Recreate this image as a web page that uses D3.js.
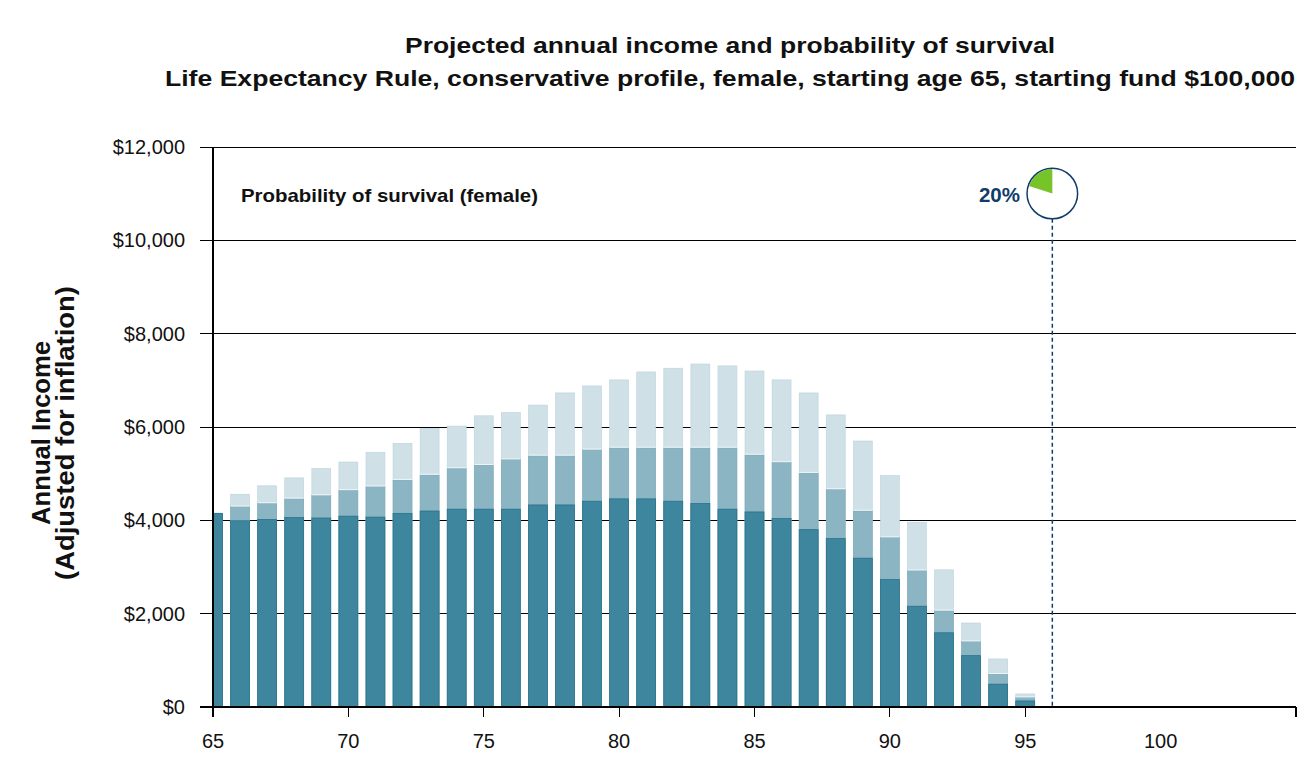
<!DOCTYPE html>
<html>
<head>
<meta charset="utf-8">
<script src="https://cdn.jsdelivr.net/npm/d3@7"></script>
<style>
  html, body { margin: 0; padding: 0; background: #fff; }
  svg { display: block; font-family: "Liberation Sans", Arial, Helvetica, sans-serif; }
</style>
</head>
<body>
<svg id="chart" width="1312" height="765"></svg>
<script>
// ---- Data ----
const ages = [65,66,67,68,69,70,71,72,73,74,75,76,77,78,79,80,81,82,83,84,85,86,87,88,89,90,91,92,93,94,95];
const incomeLow  = [4150,3990,4020,4060,4050,4090,4070,4150,4200,4240,4240,4240,4330,4330,4410,4460,4460,4410,4360,4240,4180,4040,3800,3610,3190,2730,2160,1590,1100,490,130];
const incomeMid  = [4150,4290,4360,4460,4530,4640,4720,4860,4970,5110,5180,5300,5380,5380,5510,5550,5550,5550,5550,5550,5400,5240,5010,4660,4200,3630,2920,2060,1400,700,200];
const incomeHigh = [4150,4560,4740,4910,5110,5250,5460,5650,5970,6020,6240,6310,6470,6730,6880,7010,7180,7260,7350,7310,7200,7010,6730,6260,5700,4960,3960,2940,1800,1030,280];
const yTicks = [0,2000,4000,6000,8000,10000,12000];
const xTickLabels = [65,70,75,80,85,90,95,100];
const xTickMarks = [65,70,75,80,85,90,95,105];
const survivalAge = 96;
const survivalProb = 0.20;
const titleLines = ["Projected annual income and probability of survival",
  "Life Expectancy Rule, conservative profile, female, starting age 65, starting fund $100,000"];
const yTitleLines = ["Annual Income", "(Adjusted for inflation)"];
const survivalLabel = "Probability of survival (female)";

// ---- Layout ----
const svg = d3.select("#chart");
const pL = 213, pR = 1296, pT = 147, pB = 707;
const x = d3.scaleLinear().domain([65,105]).range([pL,pR]);
const y = d3.scaleLinear().domain([0,12000]).range([pB,pT]);
const bw = (x(66) - x(65)) * 0.70;

const colors = { low: "#3d869e", mid: "#8bb5c3", high: "#cfe0e7",
                 lowEdge: "#226d88", navy: "#0f3c6c", green: "#77c32a" };

svg.append("defs").append("clipPath").attr("id","plotclip")
  .append("rect").attr("x",pL).attr("y",pT-30).attr("width",pR-pL).attr("height",pB-pT+30);

// Title
const titleWidths = [650, 1130];
svg.append("g").selectAll("text").data(titleLines).join("text")
  .attr("x", 730).attr("y", (d,i) => 53 + i*33)
  .attr("text-anchor","middle").attr("font-weight","bold").attr("font-size", 22.5)
  .attr("textLength", (d,i) => titleWidths[i]).attr("lengthAdjust","spacingAndGlyphs")
  .attr("fill","#111").text(d => d);

// Gridlines
svg.append("g").selectAll("line").data(yTicks).join("line")
  .attr("x1", 200).attr("x2", pR).attr("y1", d => y(d)).attr("y2", d => y(d))
  .attr("stroke","#000").attr("stroke-width",1).attr("shape-rendering","crispEdges");

// Bars
const rows = ages.map((a,i) => ({age:a, low:incomeLow[i], mid:incomeMid[i], high:incomeHigh[i]}));
const gb = svg.append("g").attr("clip-path","url(#plotclip)");
gb.selectAll("rect.high").data(rows).join("rect").attr("class","high")
  .attr("x", d => x(d.age) - bw/2).attr("width", bw)
  .attr("y", d => y(d.high)).attr("height", d => y(0) - y(d.high))
  .attr("fill", colors.high).attr("stroke","#bcd3dc").attr("stroke-width",0.6);
gb.selectAll("rect.mid").data(rows).join("rect").attr("class","mid")
  .attr("x", d => x(d.age) - bw/2).attr("width", bw)
  .attr("y", d => y(d.mid)).attr("height", d => y(0) - y(d.mid))
  .attr("fill", colors.mid).attr("stroke","#7aa8b8").attr("stroke-width",0.6);
gb.selectAll("line.midtop").data(rows).join("line").attr("class","midtop")
  .attr("x1", d => x(d.age) - bw/2).attr("x2", d => x(d.age) + bw/2)
  .attr("y1", d => y(d.mid) - 0.8).attr("y2", d => y(d.mid) - 0.8)
  .attr("stroke","#eef5f8").attr("stroke-width",1);
gb.selectAll("rect.low").data(rows).join("rect").attr("class","low")
  .attr("x", d => x(d.age) - bw/2).attr("width", bw)
  .attr("y", d => y(d.low)).attr("height", d => y(0) - y(d.low))
  .attr("fill", colors.low).attr("stroke", colors.lowEdge).attr("stroke-width",0.7);

// Axis base line
svg.append("line").attr("x1",200).attr("x2",pR).attr("y1",y(0)).attr("y2",y(0))
  .attr("stroke","#000").attr("stroke-width",1.2).attr("shape-rendering","crispEdges");
// Left axis
svg.append("line").attr("x1",pL).attr("x2",pL).attr("y1",pT).attr("y2",pB+10)
  .attr("stroke","#000").attr("stroke-width",1.2).attr("shape-rendering","crispEdges");

// Y tick labels
svg.append("g").selectAll("text").data(yTicks).join("text")
  .attr("x", 185).attr("y", d => y(d) + 7)
  .attr("text-anchor","end").attr("font-size",20).attr("fill","#111")
  .text(d => "$" + d3.format(",")(d));

// X tick marks
svg.append("g").selectAll("line").data(xTickMarks).join("line")
  .attr("x1", d => x(d)).attr("x2", d => x(d)).attr("y1", pB).attr("y2", pB+10)
  .attr("stroke","#000").attr("stroke-width",1.2).attr("shape-rendering","crispEdges");
// X tick labels
svg.append("g").selectAll("text").data(xTickLabels).join("text")
  .attr("x", d => x(d)).attr("y", 748)
  .attr("text-anchor","middle").attr("font-size",20).attr("fill","#111")
  .text(d => d);

// Y title
const yTitleWidths = [184, 294];
svg.append("g").attr("transform","translate(0,433)")
  .selectAll("text").data(yTitleLines).join("text")
  .attr("transform",(d,i) => `translate(${50 + i*24},0) rotate(-90)`)
  .attr("text-anchor","middle").attr("font-weight","bold").attr("font-size",26)
  .attr("textLength", (d,i) => yTitleWidths[i]).attr("lengthAdjust","spacingAndGlyphs")
  .attr("fill","#111").text(d => d);

// Survival label
svg.append("text").attr("x",241).attr("y",202)
  .attr("font-weight","bold").attr("font-size",18.5).attr("fill","#111")
  .attr("textLength", 297).attr("lengthAdjust","spacingAndGlyphs")
  .text(survivalLabel);

// Survival marker
const cx = x(survivalAge), cy = 193.5, r = 25.3;
svg.append("line").attr("x1",cx).attr("x2",cx).attr("y1",cy + r).attr("y2",pB)
  .attr("stroke",colors.navy).attr("stroke-width",1.5).attr("stroke-dasharray","4,3");
svg.append("circle").attr("cx",cx).attr("cy",cy).attr("r",r)
  .attr("fill","#fff").attr("stroke",colors.navy).attr("stroke-width",1.5);
const arc = d3.arc().innerRadius(0).outerRadius(r - 0.8)
  .startAngle(-2*Math.PI*survivalProb).endAngle(0);
svg.append("path").attr("transform",`translate(${cx},${cy})`).attr("d",arc())
  .attr("fill",colors.green);
svg.append("text").attr("x",1020).attr("y",202)
  .attr("text-anchor","end").attr("font-weight","bold").attr("font-size",20.5)
  .attr("fill",colors.navy).text(d3.format(".0%")(survivalProb));
</script>
</body>
</html>
